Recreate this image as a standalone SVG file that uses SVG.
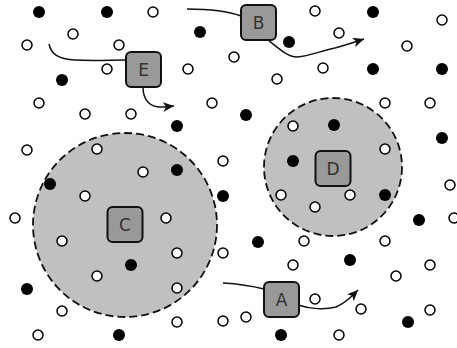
<svg xmlns="http://www.w3.org/2000/svg" width="457" height="348" viewBox="0 0 457 348">
<style>
.zone{fill:#c0c0c0;stroke:#111;stroke-width:1.8;stroke-dasharray:8,4}
.o{fill:#fff;stroke:#000;stroke-width:1.5}
.f{fill:#000}
.box{fill:#999;stroke:#111;stroke-width:2}
.lbl{font-family:"DejaVu Sans",sans-serif;font-size:17px;fill:#333;text-anchor:middle;dominant-baseline:central}
.trail{fill:none;stroke:#111;stroke-width:1.5}
</style>
<defs>
<marker id="ah" markerUnits="userSpaceOnUse" markerWidth="12" markerHeight="10" refX="11" refY="5" orient="auto">
<path d="M0,0 L11,5 L0,10 L3,5 Z" fill="#111"/>
</marker>
</defs>
<rect width="457" height="348" fill="#fff"/>
<g id="zones">
<circle class="zone" cx="125" cy="225" r="92"/>
<circle class="zone" cx="333" cy="167" r="69"/>
</g>
<g id="particles">
<circle class="f" cx="39" cy="12" r="6"/>
<circle class="f" cx="107" cy="12" r="6"/>
<circle class="f" cx="373" cy="12" r="6"/>
<circle class="f" cx="200" cy="32" r="6"/>
<circle class="f" cx="289" cy="42" r="6"/>
<circle class="f" cx="62" cy="80" r="6"/>
<circle class="f" cx="373" cy="69" r="6"/>
<circle class="f" cx="442" cy="69" r="6"/>
<circle class="f" cx="246" cy="115" r="6"/>
<circle class="f" cx="177" cy="126" r="6"/>
<circle class="f" cx="334" cy="125" r="6"/>
<circle class="f" cx="442" cy="138" r="6"/>
<circle class="f" cx="177" cy="170" r="6"/>
<circle class="f" cx="293" cy="161" r="6"/>
<circle class="f" cx="50" cy="184" r="6"/>
<circle class="f" cx="223" cy="196" r="6"/>
<circle class="f" cx="385" cy="195" r="6"/>
<circle class="f" cx="419" cy="220" r="6"/>
<circle class="f" cx="258" cy="242" r="6"/>
<circle class="f" cx="131" cy="265" r="6"/>
<circle class="f" cx="350" cy="260" r="6"/>
<circle class="f" cx="27" cy="289" r="6"/>
<circle class="f" cx="408" cy="322" r="6"/>
<circle class="f" cx="119" cy="335" r="6"/>
<circle class="f" cx="281" cy="335" r="6"/>
<circle class="o" cx="153" cy="12" r="5"/>
<circle class="o" cx="315" cy="11" r="5"/>
<circle class="o" cx="442" cy="20" r="5"/>
<circle class="o" cx="27" cy="45" r="5"/>
<circle class="o" cx="73" cy="34" r="5"/>
<circle class="o" cx="119" cy="45" r="5"/>
<circle class="o" cx="339" cy="33" r="5"/>
<circle class="o" cx="407" cy="46" r="5"/>
<circle class="o" cx="234" cy="57" r="5"/>
<circle class="o" cx="107" cy="69" r="5"/>
<circle class="o" cx="188" cy="69" r="5"/>
<circle class="o" cx="323" cy="68" r="5"/>
<circle class="o" cx="277" cy="79" r="5"/>
<circle class="o" cx="39" cy="103" r="5"/>
<circle class="o" cx="85" cy="114" r="5"/>
<circle class="o" cx="131" cy="114" r="5"/>
<circle class="o" cx="212" cy="103" r="5"/>
<circle class="o" cx="385" cy="103" r="5"/>
<circle class="o" cx="430" cy="103" r="5"/>
<circle class="o" cx="27" cy="150" r="5"/>
<circle class="o" cx="97" cy="149" r="5"/>
<circle class="o" cx="143" cy="172" r="5"/>
<circle class="o" cx="223" cy="161" r="5"/>
<circle class="o" cx="293" cy="126" r="5"/>
<circle class="o" cx="385" cy="149" r="5"/>
<circle class="o" cx="85" cy="196" r="5"/>
<circle class="o" cx="15" cy="218" r="5"/>
<circle class="o" cx="166" cy="218" r="5"/>
<circle class="o" cx="281" cy="195" r="5"/>
<circle class="o" cx="350" cy="195" r="5"/>
<circle class="o" cx="315" cy="207" r="5"/>
<circle class="o" cx="450" cy="185" r="5"/>
<circle class="o" cx="454" cy="218" r="5"/>
<circle class="o" cx="62" cy="241" r="5"/>
<circle class="o" cx="177" cy="253" r="5"/>
<circle class="o" cx="97" cy="276" r="5"/>
<circle class="o" cx="177" cy="288" r="5"/>
<circle class="o" cx="62" cy="311" r="5"/>
<circle class="o" cx="177" cy="322" r="5"/>
<circle class="o" cx="38" cy="335" r="5"/>
<circle class="o" cx="223" cy="253" r="5"/>
<circle class="o" cx="223" cy="321" r="5"/>
<circle class="o" cx="246" cy="317" r="5"/>
<circle class="o" cx="304" cy="241" r="5"/>
<circle class="o" cx="385" cy="241" r="5"/>
<circle class="o" cx="293" cy="265" r="5"/>
<circle class="o" cx="430" cy="265" r="5"/>
<circle class="o" cx="396" cy="276" r="5"/>
<circle class="o" cx="315" cy="299" r="5"/>
<circle class="o" cx="361" cy="309" r="5"/>
<circle class="o" cx="430" cy="310" r="5"/>
<circle class="o" cx="339" cy="335" r="5"/>
</g>
<g id="connectors">
<path class="trail" d="M49,44 C51,54 58,59 75,60 C95,61 110,60 126,60"/>
<path class="trail" d="M143,87 C143,100 150,108 163,107 L174,106" marker-end="url(#ah)"/>
<path class="trail" d="M187,9 C205,9 225,10 241,16"/>
<path class="trail" d="M268,40 C278,48 288,57 297,57 C310,56 320,51 335,48 C346,45 355,42 364,39" marker-end="url(#ah)"/>
<path class="trail" d="M223,283 C240,284 252,286 264,289"/>
<path class="trail" d="M298,305 C310,309 325,310 336,307 C346,303 352,296 358,290" marker-end="url(#ah)"/>
</g>
<g id="node-E"><rect class="box" x="126" y="52" width="35" height="35" rx="5"/><text class="lbl" x="143.5" y="70">E</text></g>
<g id="node-B"><rect class="box" x="241" y="5" width="35" height="35" rx="5"/><text class="lbl" x="258.5" y="23">B</text></g>
<g id="node-C"><rect class="box" x="107.5" y="207" width="35" height="35" rx="5"/><text class="lbl" x="125" y="225">C</text></g>
<g id="node-D"><rect class="box" x="315.5" y="151" width="35" height="35" rx="5"/><text class="lbl" x="333" y="169">D</text></g>
<g id="node-A"><rect class="box" x="264" y="282" width="35" height="35" rx="5"/><text class="lbl" x="281.5" y="300">A</text></g>
</svg>
